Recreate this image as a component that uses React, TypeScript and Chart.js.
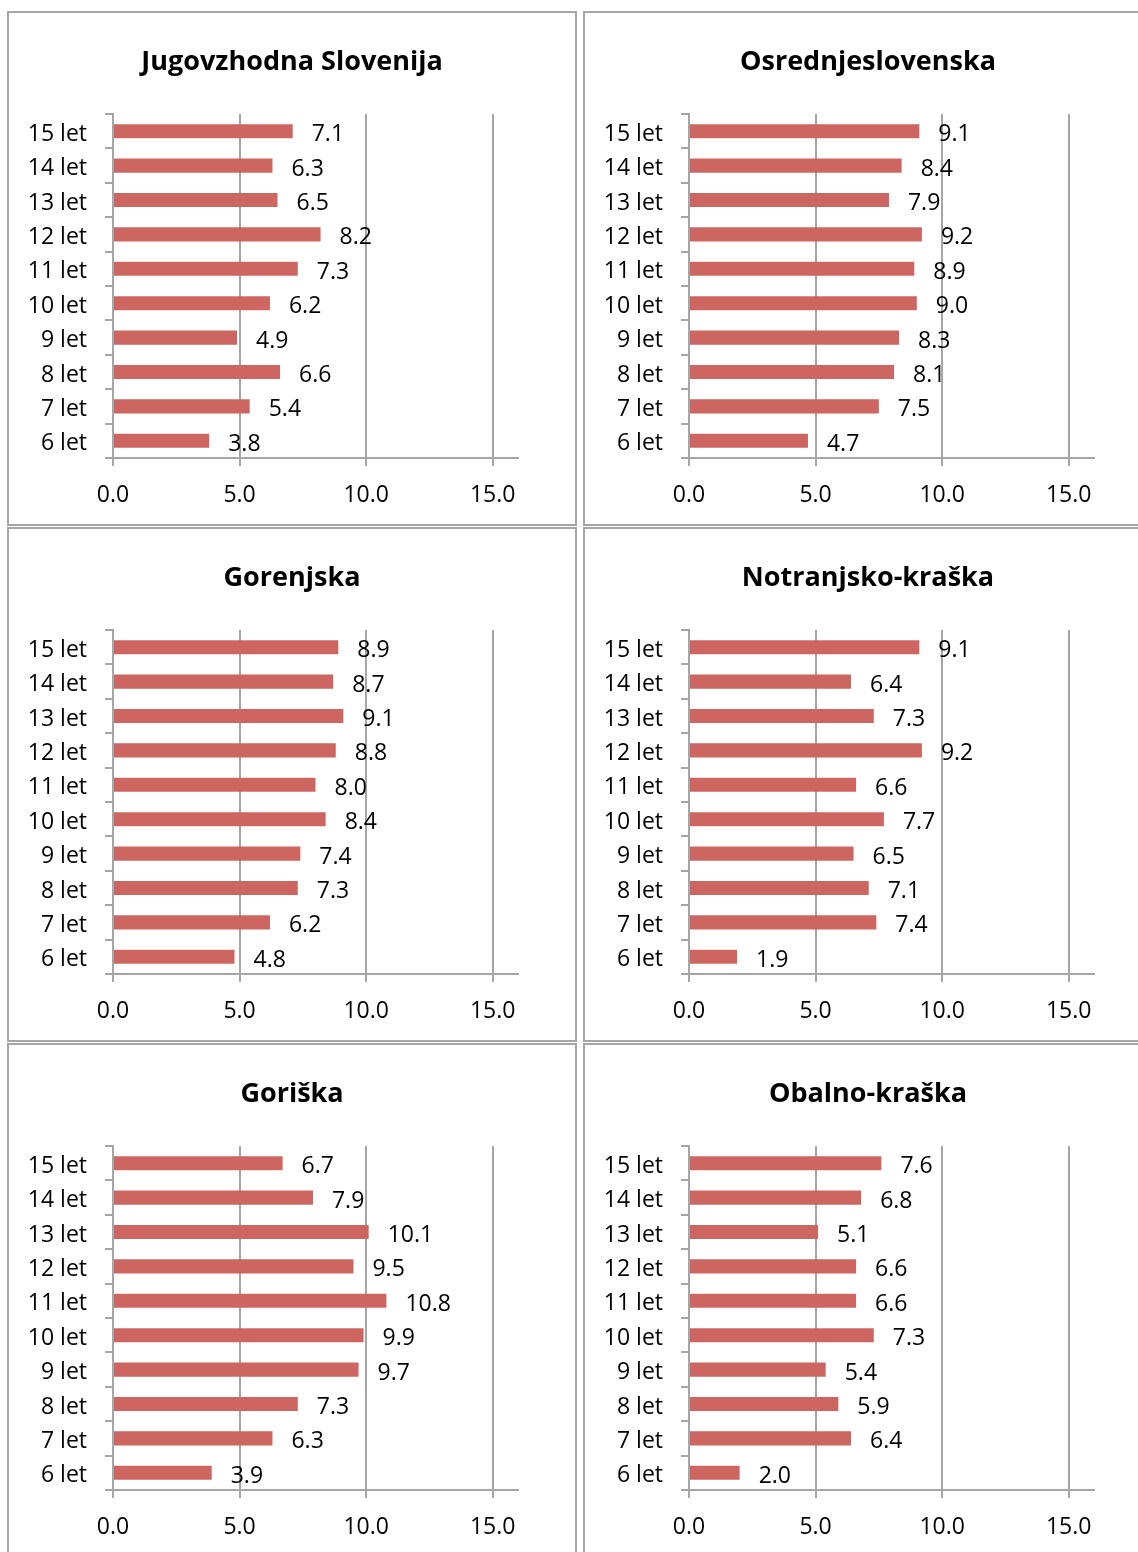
import React, { useEffect, useRef } from "react";
import { Chart, registerables } from "chart.js";

Chart.register(...registerables);

// ---- data ----
const ageLabels = ["15 let", "14 let", "13 let", "12 let", "11 let", "10 let", "9 let", "8 let", "7 let", "6 let"];

const jugovzhodnaSlovenija = [7.1, 6.3, 6.5, 8.2, 7.3, 6.2, 4.9, 6.6, 5.4, 3.8];
const osrednjeslovenska = [9.1, 8.4, 7.9, 9.2, 8.9, 9.0, 8.3, 8.1, 7.5, 4.7];
const gorenjska = [8.9, 8.7, 9.1, 8.8, 8.0, 8.4, 7.4, 7.3, 6.2, 4.8];
const notranjskoKraska = [9.1, 6.4, 7.3, 9.2, 6.6, 7.7, 6.5, 7.1, 7.4, 1.9];
const goriska = [6.7, 7.9, 10.1, 9.5, 10.8, 9.9, 9.7, 7.3, 6.3, 3.9];
const obalnoKraska = [7.6, 6.8, 5.1, 6.6, 6.6, 7.3, 5.4, 5.9, 6.4, 2.0];

const regionTitles = ["Jugovzhodna Slovenija", "Osrednjeslovenska", "Gorenjska", "Notranjsko-kraška", "Goriška", "Obalno-kraška"];
const regionValues = [jugovzhodnaSlovenija, osrednjeslovenska, gorenjska, notranjskoKraska, goriska, obalnoKraska];

const axisMin = 0;
const axisMax = 16;
const axisStep = 5;

// ---- styles ----
const FONT = "'Open Sans', sans-serif";
const BAR_COLOR = "#cd6660";
const GRID_COLOR = "#a6a6a6";
const PANEL_W = 570;
const PANEL_H = 515;

const valueLabelPlugin = {
  id: "valueLabels",
  afterDatasetsDraw(chart: any) {
    const ctx = chart.ctx;
    chart.data.datasets.forEach((ds: any, i: number) => {
      const meta = chart.getDatasetMeta(i);
      meta.data.forEach((bar: any, j: number) => {
        const v = ds.data[j] as number;
        ctx.save();
        ctx.font = `23px ${FONT}`;
        ctx.fillStyle = "#000";
        ctx.textAlign = "left";
        ctx.textBaseline = "middle";
        ctx.fillText(v.toFixed(1), bar.x + 19, bar.y + 3.5);
        ctx.restore();
      });
    });
  },
};

function Panel({ title, values, left, top }: { title: string; values: number[]; left: number; top: number }) {
  const ref = useRef<HTMLCanvasElement | null>(null);
  useEffect(() => {
    if (!ref.current) return;
    const chart = new Chart(ref.current, {
      type: "bar",
      data: {
        labels: ageLabels,
        datasets: [
          {
            data: values,
            backgroundColor: BAR_COLOR,
            borderWidth: 0,
            categoryPercentage: 1,
            barPercentage: 0.41,
          },
        ],
      },
      options: {
        indexAxis: "y",
        responsive: false,
        animation: false,
        devicePixelRatio: 1,
        layout: { padding: 0 },
        plugins: {
          legend: { display: false },
          tooltip: { enabled: false },
          title: {
            display: true,
            text: title,
            color: "#000",
            font: { family: FONT, size: 27, weight: "bold" },
            padding: { top: 35, bottom: 35.6 },
          },
        },
        scales: {
          x: {
            type: "linear",
            min: axisMin,
            max: axisMax,
            afterFit: (s: any) => {
              s.height = 68;
            },
            ticks: {
              stepSize: axisStep,
              includeBounds: false,
              color: "#000",
              font: { family: FONT, size: 23 },
              padding: 16,
              callback: (v: any) => Number(v).toFixed(1),
            },
            grid: {
              color: GRID_COLOR,
              lineWidth: 2,
              drawOnChartArea: true,
              drawTicks: true,
              tickLength: 8,
            },
            border: { display: true, color: GRID_COLOR, width: 2 },
          },
          y: {
            type: "category",
            afterFit: (s: any) => {
              s.width = 106;
            },
            ticks: {
              color: "#000",
              font: { family: FONT, size: 23 },
              padding: 18,
              labelOffset: 3,
            },
            grid: {
              offset: true,
              color: GRID_COLOR,
              lineWidth: 2,
              drawOnChartArea: false,
              drawTicks: true,
              tickLength: 8,
            },
            border: { display: true, color: GRID_COLOR, width: 2 },
          },
          spacer: {
            type: "linear",
            position: "right",
            display: true,
            afterFit: (s: any) => {
              s.width = 59;
            },
            ticks: { display: false },
            grid: { display: false, drawTicks: false },
            border: { display: false },
          },
        },
      },
      plugins: [valueLabelPlugin],
    });
    return () => chart.destroy();
  }, [title, values]);

  return (
    <div
      style={{
        position: "absolute",
        left,
        top,
        width: PANEL_W,
        height: PANEL_H,
        boxSizing: "border-box",
        border: `2px solid ${GRID_COLOR}`,
        background: "#fff",
      }}
    >
      <canvas
        ref={ref}
        width={PANEL_W}
        height={PANEL_H}
        style={{ position: "absolute", left: -2, top: -2, width: PANEL_W, height: PANEL_H }}
      />
    </div>
  );
}

export default function App() {
  return (
    <div
      style={{
        position: "fixed",
        left: 0,
        top: 0,
        width: 1138,
        height: 1552,
        overflow: "hidden",
        background: "#fff",
      }}
    >
      {regionTitles.map((t, i) => (
        <Panel
          key={t}
          title={t}
          values={regionValues[i]}
          left={7 + (i % 2) * 576}
          top={11 + Math.floor(i / 2) * 516}
        />
      ))}
    </div>
  );
}
